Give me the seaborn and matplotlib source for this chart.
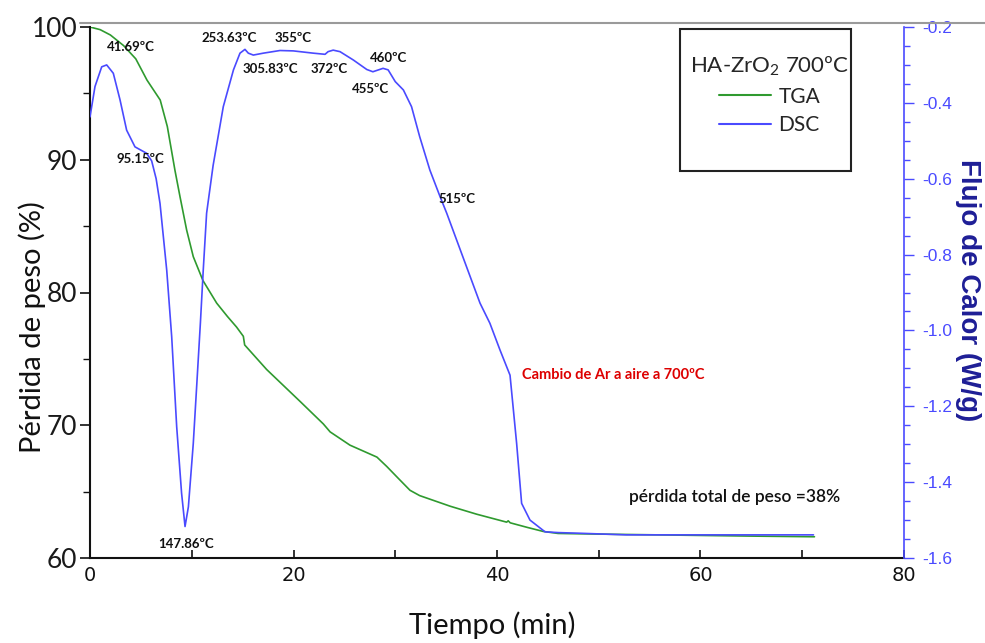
import numpy as np
import pandas as pd
import matplotlib
matplotlib.use("Agg")
import matplotlib.pyplot as plt
from matplotlib.lines import Line2D
from matplotlib.patches import Rectangle
from matplotlib.ticker import MultipleLocator
import seaborn as sns

# ---- TGA: weight (%) vs time (min) ----
tga_time = [0, 1.0, 2.0, 3.3, 4.5, 5.6, 6.9, 7.6, 8.35, 8.85,
            9.5, 10.15, 11.1, 12.45, 13.5, 14.4, 15.07, 15.2, 17.36, 20.64,
            22.93, 23.6, 25.55, 28.2, 29.16, 30.3, 31.45, 32.4, 35.4, 38.0,
            40.95, 41.1, 41.3, 43.0, 44.55, 46.0, 50, 55, 60, 65, 71.2]
tga_weight = [100, 99.8, 99.4, 98.6, 97.6, 96.0, 94.5, 92.5, 89.2, 87.2,
              84.7, 82.7, 80.9, 79.2, 78.2, 77.4, 76.7, 76.05, 74.2, 71.8,
              70.1, 69.5, 68.5, 67.6, 66.9, 66.0, 65.1, 64.7, 63.9, 63.3,
              62.7, 62.8, 62.65, 62.3, 62.0, 61.85, 61.8, 61.75, 61.7, 61.65, 61.6]

# ---- DSC: heat flow (W/g) vs time (min) ----
dsc_time = [0, 0.49, 1.15, 1.64, 2.29, 2.95, 3.6, 4.42, 5.57, 6.06,
            6.5, 6.88, 7.54, 8.03, 8.52, 9.0, 9.34, 9.67, 10.15, 10.5,
            10.85, 11.13, 11.46, 12.1, 13.1, 14.1, 14.74, 15.23, 15.56, 16.05,
            17.03, 18.67, 19.98, 21.95, 23.1, 23.4, 23.9, 24.57, 25.88, 27.2,
            27.8, 28.8, 29.3, 30.0, 30.8, 31.6, 32.4, 33.4, 34.4, 35.06,
            36.7, 38.33, 39.3, 40.3, 41.28, 41.93, 42.42, 43.24, 44.72, 46.0,
            48.4, 52.7, 60, 71.1]
dsc_flow = [-0.437, -0.357, -0.305, -0.300, -0.322, -0.392, -0.472, -0.516, -0.533, -0.553,
            -0.600, -0.665, -0.841, -1.017, -1.254, -1.429, -1.517, -1.465, -1.298, -1.140,
            -0.980, -0.841, -0.691, -0.565, -0.410, -0.313, -0.269, -0.259, -0.269, -0.274,
            -0.269, -0.262, -0.263, -0.269, -0.272, -0.265, -0.261, -0.265, -0.287, -0.312,
            -0.318, -0.309, -0.313, -0.344, -0.366, -0.410, -0.489, -0.577, -0.647, -0.691,
            -0.810, -0.928, -0.981, -1.052, -1.118, -1.298, -1.456, -1.500, -1.531, -1.533,
            -1.535, -1.539, -1.539, -1.539]

# ---- Temperature labels on the DSC curve: (text, time, heat flow) ----
peak_labels = ["41.69ºC", "95.15ºC", "147.86ºC", "253.63ºC", "355ºC",
               "305.83ºC", "372ºC", "460ºC", "455ºC", "515ºC"]
peak_x = [4.03, 4.91, 9.43, 13.66, 19.95, 17.7, 23.5, 29.3, 27.6, 36.1]
peak_y = [-0.253, -0.548, -1.563, -0.229, -0.229, -0.311, -0.311, -0.282, -0.363, -0.653]

x_ticks = [0, 20, 40, 60, 80]
left_ticks = [60, 70, 80, 90, 100]
right_ticks = [-1.6, -1.4, -1.2, -1.0, -0.8, -0.6, -0.4, -0.2]

GREEN = "#2f9a2f"
BLUE = "#4a4aff"

sns.set_style("white")
plt.rcParams["font.family"] = ["Lato", "DejaVu Sans"]
plt.rcParams["mathtext.fontset"] = "custom"
plt.rcParams["mathtext.rm"] = "Lato"
plt.rcParams["mathtext.it"] = "Lato:italic"
plt.rcParams["mathtext.bf"] = "Lato:bold"

fig = plt.figure(figsize=(9.85, 6.43), dpi=100)
ax = fig.add_axes([90 / 985, 1 - 558 / 643, 814 / 985, 531 / 643])
ax2 = ax.twinx()

tga = pd.DataFrame({"Tiempo": tga_time, "Peso": tga_weight})
dsc = pd.DataFrame({"Tiempo": dsc_time, "Flujo": dsc_flow})

sns.lineplot(data=tga, x="Tiempo", y="Peso", ax=ax, color=GREEN, lw=1.2,
             estimator=None, sort=False)
sns.lineplot(data=dsc, x="Tiempo", y="Flujo", ax=ax2, color=BLUE, lw=1.2,
             estimator=None, sort=False)

ax.set_xlim(0, 80)
ax.set_ylim(60, 100)
ax2.set_ylim(-1.6, -0.2)

# axes styling
for sp in ("left", "bottom"):
    ax.spines[sp].set_color("#111111")
    ax.spines[sp].set_linewidth(1.5)
ax.spines["top"].set_visible(False)
ax.spines["right"].set_visible(False)
ax2.spines["top"].set_visible(False)
ax2.spines["left"].set_visible(False)
ax2.spines["bottom"].set_visible(False)
ax2.spines["right"].set_color(BLUE)
ax2.spines["right"].set_linewidth(1.2)

ax.set_xticks(x_ticks)
ax.set_xticklabels([str(v) for v in x_ticks], family=["Liberation Sans Narrow", "DejaVu Sans"],
                   fontsize=14, color="#111111")
ax.xaxis.set_minor_locator(MultipleLocator(10))
ax.tick_params(axis="x", which="both", direction="in", bottom=True, top=False,
               length=6, width=1.2, color="#111111", pad=6)

ax.set_yticks(left_ticks)
ax.set_yticklabels([str(v) for v in left_ticks], fontsize=19, color="#1a1a1a")
ax.yaxis.set_minor_locator(MultipleLocator(5))
ax.tick_params(axis="y", which="major", direction="out", left=True, length=7, width=1.2,
               color="#111111", pad=2)
ax.tick_params(axis="y", which="minor", direction="out", left=True, length=5, width=1.0,
               color="#111111")

ax2.set_yticks(right_ticks)
ax2.set_yticklabels([f"{v:.1f}" for v in right_ticks],
                    family=["Liberation Sans", "DejaVu Sans"], fontsize=12.5, color=BLUE)
ax2.yaxis.set_minor_locator(MultipleLocator(0.05))
ax2.tick_params(axis="y", which="major", direction="out", right=True, length=7, width=1.0,
                color=BLUE, pad=6)
ax2.tick_params(axis="y", which="minor", direction="out", right=True, length=4, width=1.0,
                color=BLUE)

ax.set_xlabel("Tiempo (min)", fontsize=21, color="#111111", va="center")
ax.xaxis.set_label_coords(0.494, -0.126)
ax.set_ylabel("Pérdida de peso (%)", fontsize=21, color="#111111", va="center")
ax.yaxis.set_label_coords(-0.071, 0.435)
ax2.set_ylabel("Flujo de Calor (W/g)", fontsize=20, color="#1e1e96", rotation=270,
               family=["Liberation Sans", "DejaVu Sans"], fontweight="bold", va="center")
ax2.yaxis.set_label_coords(1.079, 0.505)

# temperature labels on the DSC trace
for txt, px, py in zip(peak_labels, peak_x, peak_y):
    ax2.text(px, py, txt, ha="center", va="center", fontsize=9.5,
             fontweight="bold", color="#111111")

ax2.text(42.5, -1.117, "Cambio de Ar a aire a 700ºC", ha="left", va="center",
         fontsize=10.5, fontweight="bold", color="#dd0000")
ax2.text(63.4, -1.439, "pérdida total de peso =38%", ha="center", va="center",
         fontsize=12.5, fontweight="semibold", color="#111111")

# legend with its own square frame
ax.add_patch(Rectangle((0.725, 0.729), 0.21, 0.267, transform=ax.transAxes,
                       fill=True, facecolor="white", edgecolor="#222222", lw=1.5,
                       zorder=5, clip_on=False))
handles = [Line2D([], [], color=GREEN, lw=1.5), Line2D([], [], color=BLUE, lw=1.5)]
leg = ax2.legend(handles, ["TGA", "DSC"], title="HA-ZrO$_2$ 700ºC",
                 loc="center", bbox_to_anchor=(0.835, 0.872), frameon=False,
                 fontsize=15, title_fontsize=16, handlelength=2.5, handletextpad=0.35,
                 labelspacing=0.4)
leg.set_zorder(6)

# thin rule along the top of the figure
fig.add_artist(Line2D([80 / 985, 1.0], [1 - 23 / 643, 1 - 23 / 643], color="#9a9a9a",
                      lw=1.5, transform=fig.transFigure))

fig.savefig("out.png", dpi=100, facecolor="white")
